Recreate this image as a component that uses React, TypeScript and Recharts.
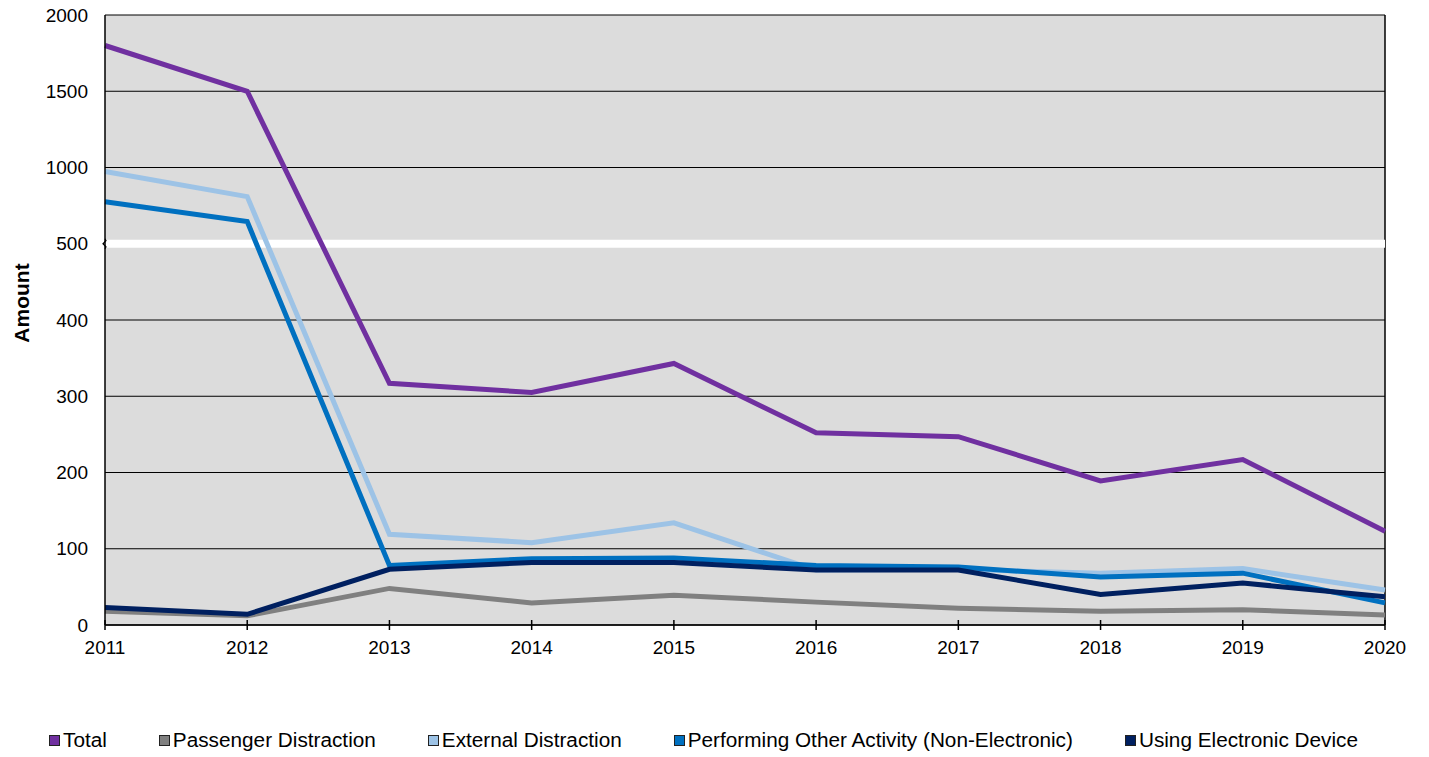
import { LineChart, Line, XAxis, YAxis, CartesianGrid, Legend, ReferenceLine } from "recharts";

const years = ["2011", "2012", "2013", "2014", "2015", "2016", "2017", "2018", "2019", "2020"];
const total = [1800, 1500, 317, 305, 343, 252, 247, 189, 217, 123];
const passenger = [18, 12, 48, 29, 39, 30, 22, 18, 20, 13];
const external = [974, 809, 119, 108, 134, 72, 73, 68, 74, 46];
const otherActivity = [776, 645, 78, 87, 88, 78, 76, 63, 68, 29];
const electronic = [23, 14, 73, 82, 82, 72, 72, 40, 55, 37];
const yTickLabels = [0, 100, 200, 300, 400, 500, 1000, 1500, 2000];

// broken axis: everything above 500 is squeezed 5x
const BREAK = 500;
const SQUEEZE = 5;
const squash = (v: number) => (v <= BREAK ? v : BREAK + (v - BREAK) / SQUEEZE);
const unsquash = (d: number) => (d <= BREAK ? d : BREAK + (d - BREAK) * SQUEEZE);

const series = [
  { key: "total", name: "Total", color: "#7030A0", values: total },
  { key: "passenger", name: "Passenger Distraction", color: "#808080", values: passenger },
  { key: "external", name: "External Distraction", color: "#9DC3E6", values: external },
  { key: "other", name: "Performing Other Activity (Non-Electronic)", color: "#0070C0", values: otherActivity },
  { key: "electronic", name: "Using Electronic Device", color: "#002060", values: electronic },
];

const data = years.map((year, i) => {
  const row: Record<string, number | string> = { year };
  series.forEach((s) => {
    row[s.key] = squash(s.values[i]);
  });
  return row;
});

const FONT = "'Liberation Sans', Arial, sans-serif";

function XTick({ x, y, payload }: any) {
  return (
    <g>
      <line x1={x} x2={x} y1={y - 5} y2={y + 5} stroke="#000" strokeWidth={1.5} />
      <text x={x} y={y + 29} textAnchor="middle" fontSize={19} fontFamily={FONT} fill="#000">
        {payload.value}
      </text>
    </g>
  );
}

function BreakMark({ viewBox }: any) {
  const x = viewBox.x;
  const y = viewBox.y;
  return (
    <path
      d={`M ${x} ${y - 5} L ${x + 1} ${y - 3} L ${x - 2} ${y} L ${x + 1} ${y + 3} L ${x} ${y + 5}`}
      stroke="#000"
      strokeWidth={1.2}
      fill="none"
    />
  );
}

function AxisTitle({ viewBox }: any) {
  const x = viewBox.x + 13;
  const y = viewBox.y + viewBox.height / 2 - 17;
  return (
    <text
      x={x}
      y={y}
      transform={`rotate(-90 ${x} ${y})`}
      textAnchor="middle"
      dominantBaseline="central"
      fontSize={21}
      fontWeight="bold"
      fontFamily={FONT}
      fill="#000"
    >
      Amount
    </text>
  );
}

function LegendContent() {
  return (
    <div style={{ display: "flex", gap: 52, fontFamily: FONT, fontSize: 20.75, color: "#000" }}>
      {series.map((s) => (
        <div key={s.key} style={{ display: "flex", alignItems: "center", gap: 3 }}>
          <span
            style={{
              display: "inline-block",
              width: 9,
              height: 9,
              background: s.color,
              border: "1.5px solid #222",
            }}
          />
          <span>{s.name}</span>
        </div>
      ))}
    </div>
  );
}

export default function App() {
  return (
    <LineChart
      width={1421}
      height={749}
      data={data}
      margin={{ top: 7, right: 44, bottom: 68, left: 0 }}
      style={{ overflow: "visible" }}
    >
      <CartesianGrid vertical={false} fill="#DCDCDC" stroke="#000" strokeWidth={1} />
      <XAxis
        dataKey="year"
        tick={<XTick />}
        tickLine={false}
        tickSize={0}
        tickMargin={0}
        height={40}
        axisLine={{ stroke: "#000", strokeWidth: 1.5 }}
        interval={0}
      />
      <YAxis
        type="number"
        domain={[0, 800]}
        ticks={yTickLabels.map(squash)}
        tickFormatter={(d: number) => String(Math.round(unsquash(d)))}
        width={97}
        tickSize={0}
        tickMargin={17}
        tickLine={false}
        axisLine={{ stroke: "#000", strokeWidth: 1.5 }}
        tick={{ fill: "#000", fontSize: 19, fontFamily: FONT }}
        label={<AxisTitle />}
        interval={0}
      />
      <ReferenceLine x="2020" stroke="#000" strokeWidth={1.5} />
      <ReferenceLine y={BREAK} stroke="#FFFFFF" strokeWidth={8} label={<BreakMark />} />
      {series.map((s) => (
        <Line
          key={s.key}
          dataKey={s.key}
          name={s.name}
          stroke={s.color}
          strokeWidth={5}
          dot={false}
          activeDot={false}
          type="linear"
          isAnimationActive={false}
        />
      ))}
      <Legend
        content={<LegendContent />}
        verticalAlign="bottom"
        wrapperStyle={{ position: "absolute", left: 41, top: 720, width: "auto", bottom: "auto" }}
      />
    </LineChart>
  );
}
